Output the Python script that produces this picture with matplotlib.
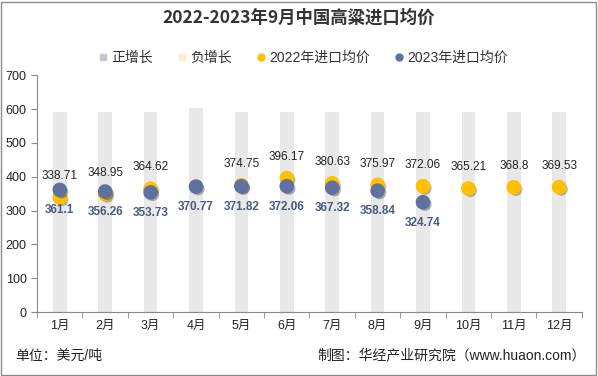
import matplotlib
matplotlib.use("Agg")
import matplotlib.pyplot as plt
import matplotlib.patheffects as pe
from matplotlib.lines import Line2D
from matplotlib.patches import Rectangle
import numpy as np

plt.rcParams['font.family'] = ['Liberation Sans', 'Noto Sans CJK SC']

# data
months = ['1月', '2月', '3月', '4月', '5月', '6月', '7月', '8月', '9月', '10月', '11月', '12月']
bg_bars = [592, 592, 592, 602, 592, 592, 592, 592, 592, 592, 592, 592]
price_2022 = [338.71, 348.95, 364.62, np.nan, 374.75, 396.17, 380.63, 375.97, 372.06, 365.21, 368.8, 369.53]
price_2023 = [361.1, 356.26, 353.73, 370.77, 371.82, 372.06, 367.32, 358.84, 324.74]

c22 = '#FFC000'
c23 = '#5F719C'

fig = plt.figure(figsize=(5.98, 3.76), dpi=100)
ax = fig.add_axes([0.062, 0.170, 0.911, 0.630])

x = np.arange(len(months))
ax.bar(x, bg_bars, width=0.3, color='#E8E8E8', zorder=1)

shadow = [pe.SimplePatchShadow(offset=(1.5, -1.5), alpha=0.35), pe.Normal()]
s1 = ax.scatter(x, price_2022, s=90, color=c22, zorder=3)
s1.set_path_effects(shadow)
x23 = np.arange(len(price_2023))
s2 = ax.scatter(x23, price_2023, s=90, color=c23, zorder=4)
s2.set_path_effects(shadow)

# labels: 2022 above its point, 2023 below its point
for i, v in enumerate(price_2022):
    if np.isnan(v):
        continue
    ax.annotate(f"{v:g}", (i, v), xytext=(0, 11), textcoords='offset points',
                ha='center', va='bottom', fontsize=8.5, color='#222222', zorder=5)
for i, v in enumerate(price_2023):
    ax.annotate(f"{v:g}", (i, v), xytext=(0, -10.5), textcoords='offset points',
                ha='center', va='top', fontsize=8.5, color='#4A5A80',
                fontweight='bold', zorder=5)

ax.set_xlim(-0.5, 11.5)
ax.set_ylim(0, 700)
ax.set_yticks(range(0, 701, 100))
ax.set_xticks(x)
ax.set_xticklabels(months, fontsize=9)
ax.set_xticks(np.arange(-0.5, 12, 1), minor=True)
ax.tick_params(axis='x', which='major', length=0, pad=6, colors='#222222')
ax.tick_params(axis='x', which='minor', length=4, color='#888888')
ax.tick_params(axis='y', length=4, color='#888888', labelsize=9, labelcolor='#222222')
for side in ['top', 'right']:
    ax.spines[side].set_visible(False)
ax.spines['left'].set_color('#888888')
ax.spines['bottom'].set_color('#888888')

fig.text(0.5, 0.952, '2022-2023年9月中国高粱进口均价', ha='center', va='center',
         fontsize=12.5, fontweight='bold', color='#333333', family=['Noto Sans CJK SC'])

handles = [
    Line2D([], [], marker='s', ls='', color='#C3C7D3', markersize=5),
    Line2D([], [], marker='s', ls='', color='#FBEFCB', markersize=5),
    Line2D([], [], marker='o', ls='', color=c22, markersize=5),
    Line2D([], [], marker='o', ls='', color=c23, markersize=5),
]
fig.legend(handles, ['正增长', '负增长', '2022年进口均价', '2023年进口均价'],
           loc='center', bbox_to_anchor=(0.505, 0.845), ncol=4, frameon=False,
           fontsize=10, handletextpad=0.1, columnspacing=1.6, handlelength=1,
           labelcolor='#333333')

fig.text(0.025, 0.055, '单位：美元/吨', ha='left', va='center', fontsize=10, color='#222222')
fig.text(0.98, 0.055, '制图：华经产业研究院（www.huaon.com）', ha='right', va='center',
         fontsize=10, color='#222222')

fig.patches.append(Rectangle((0.002, 0.003), 0.994, 0.992, transform=fig.transFigure,
                             fill=False, edgecolor='#8C8C8C', lw=1))

fig.savefig('out.png', dpi=100)
